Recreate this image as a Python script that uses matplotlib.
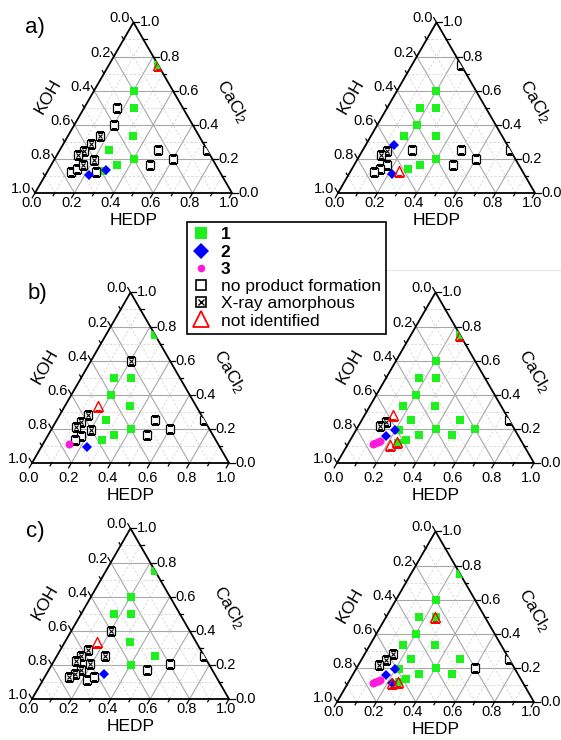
import numpy as np
import matplotlib
matplotlib.use("Agg")
import matplotlib.pyplot as plt
from matplotlib.lines import Line2D
from matplotlib.patches import Polygon

plt.rcParams.update({
    "font.family": ["Liberation Sans", "DejaVu Sans"],
    "mathtext.fontset": "custom",
    "mathtext.rm": "Liberation Sans",
    "mathtext.it": "Liberation Sans:italic",
    "mathtext.bf": "Liberation Sans:bold",
})

W, H = 561, 740
H3 = np.sqrt(3) / 2
SIDE = 197          # triangle side in pixels
PAD, TOP = 0.25, 0.15

GREEN = "#1ef01e"
BLUE = "#0000ff"
MAGENTA = "#ff1ad9"
RED = "#ff0000"

# compositions as (HEDP, CaCl2) fractions, KOH = 1 - HEDP - CaCl2
A_LEFT = {
    "1": [(0.25, 0.75), (0.2, 0.6), (0.25, 0.5), (0.333, 0.333), (0.4, 0.2),
          (0.25, 0.25), (0.333, 0.167), (0.28, 0.13)],
    "2": [(0.222, 0.105), (0.292, 0.133)],
    "3": [],
    "none": [(0.167, 0.5), (0.2, 0.4), (0.5, 0.25), (0.6, 0.2), (0.5, 0.167),
             (0.75, 0.25), (0.122, 0.121), (0.144, 0.139), (0.25, 0.121)],
    "amorph": [(0.16, 0.337), (0.14, 0.285), (0.124, 0.248), (0.106, 0.222),
               (0.2, 0.195), (0.163, 0.164)],
    "unid": [(0.25, 0.75)],
}
A_RIGHT = {
    "1": [(0.2, 0.6), (0.167, 0.5), (0.25, 0.5), (0.2, 0.4), (0.167, 0.333),
          (0.333, 0.333), (0.4, 0.2), (0.333, 0.167), (0.285, 0.139)],
    "2": [(0.146, 0.281), (0.22, 0.113)],
    "3": [],
    "none": [(0.25, 0.75), (0.25, 0.25), (0.5, 0.25), (0.6, 0.2), (0.5, 0.167),
             (0.75, 0.25), (0.165, 0.164), (0.142, 0.141), (0.124, 0.121)],
    "amorph": [(0.126, 0.248), (0.107, 0.222)],
    "unid": [(0.247, 0.129)],
}
B_LEFT = {
    "1": [(0.25, 0.75), (0.167, 0.5), (0.25, 0.5), (0.2, 0.4), (0.333, 0.333),
          (0.25, 0.25), (0.4, 0.2), (0.333, 0.167), (0.29, 0.133)],
    "2": [(0.234, 0.094)],
    "3": [(0.133, 0.113)],
    "none": [(0.172, 0.158), (0.152, 0.133), (0.5, 0.25), (0.6, 0.2),
             (0.5, 0.167), (0.75, 0.25)],
    "amorph": [(0.2, 0.6), (0.145, 0.279), (0.13, 0.24), (0.116, 0.212),
               (0.2, 0.195)],
    "unid": [(0.167, 0.333)],
}
B_RIGHT = {
    "1": [(0.25, 0.75), (0.2, 0.6), (0.167, 0.5), (0.25, 0.5), (0.2, 0.4),
          (0.167, 0.333), (0.333, 0.333), (0.25, 0.25), (0.5, 0.25),
          (0.4, 0.2), (0.6, 0.2), (0.333, 0.167), (0.5, 0.167),
          (0.286, 0.133), (0.25, 0.12), (0.215, 0.195)],
    "2": [(0.197, 0.195), (0.168, 0.157)],
    "3": [(0.128, 0.11), (0.136, 0.117), (0.144, 0.124), (0.152, 0.131)],
    "none": [(0.75, 0.25)],
    "amorph": [(0.126, 0.241), (0.108, 0.216)],
    "unid": [(0.25, 0.75), (0.141, 0.284), (0.219, 0.104), (0.243, 0.122)],
}
C_LEFT = {
    "1": [(0.25, 0.75), (0.2, 0.6), (0.167, 0.5), (0.25, 0.5), (0.333, 0.333),
          (0.5, 0.25), (0.4, 0.2)],
    "2": [(0.29, 0.146)],
    "3": [],
    "none": [(0.224, 0.109), (0.249, 0.127), (0.5, 0.168), (0.6, 0.205),
             (0.75, 0.25)],
    "amorph": [(0.2, 0.4), (0.139, 0.288), (0.246, 0.253), (0.123, 0.253),
               (0.111, 0.22), (0.194, 0.205), (0.164, 0.172), (0.142, 0.148),
               (0.122, 0.127)],
    "unid": [(0.162, 0.337)],
}
C_RIGHT = {
    "1": [(0.25, 0.75), (0.2, 0.6), (0.167, 0.5), (0.25, 0.5), (0.2, 0.4),
          (0.167, 0.333), (0.333, 0.333), (0.25, 0.25), (0.5, 0.25),
          (0.4, 0.2), (0.333, 0.167), (0.5, 0.167), (0.286, 0.133),
          (0.256, 0.115), (0.215, 0.195)],
    "2": [(0.197, 0.195), (0.168, 0.157), (0.223, 0.109)],
    "3": [(0.128, 0.11), (0.136, 0.117), (0.144, 0.124), (0.152, 0.131)],
    "none": [(0.6, 0.2), (0.75, 0.25)],
    "amorph": [(0.145, 0.279), (0.126, 0.245), (0.107, 0.216)],
    "unid": [(0.245, 0.5), (0.223, 0.109), (0.25, 0.118)],
}

# panel placement: bottom-left corner of each triangle (pixels from top-left),
# plus the extra drop of the bottom labels in that row
PANELS = [
    (A_LEFT, 35, 193, 0), (A_RIGHT, 338, 193, 0),
    (B_LEFT, 32, 463, 5), (B_RIGHT, 337, 463, 5),
    (C_LEFT, 32, 699, 0), (C_RIGHT, 337, 702, 0),
]
PANEL_LETTERS = [("a)", 35, 27), ("b)", 37, 294), ("c)", 35, 531)]

ORDER = ["1", "none", "amorph", "3", "2", "unid"]
STYLE = {
    "1": dict(marker="s", ms=6, mfc=GREEN, mec=GREEN, mew=0),
    "2": dict(marker="D", ms=4.6, mfc=BLUE, mec=BLUE, mew=0),
    "3": dict(marker="o", ms=5.8, mfc=MAGENTA, mec=MAGENTA, mew=0),
    "none": dict(marker="s", ms=5.4, mfc="white", mec="black", mew=0.9),
    "amorph": dict(marker="s", ms=5.4, mfc="white", mec="black", mew=0.9),
    "unid": dict(marker="^", ms=6.5, mfc="none", mec=RED, mew=1.0),
}


def cart(h, c):
    h = np.asarray(h, float)
    c = np.asarray(c, float)
    return h + c / 2, c * H3


def draw_frame(ax, drop):
    for i in range(1, 10):
        t = i / 10
        if i % 2 == 0:
            kw = dict(color="#a8a8a8", lw=0.8, ls="-")
        else:
            kw = dict(color="#d6d6d6", lw=0.6, ls=(0, (3, 2)))
        for h, c in [([0, 1 - t], [t, t]),           # const CaCl2
                     ([t, t], [0, 1 - t]),           # const HEDP
                     ([1 - t, 0], [0, 1 - t])]:      # const KOH
            ax.plot(*cart(h, c), zorder=1, **kw)
    ax.plot([0, 1, 0.5, 0], [0, 0, H3, 0], color="black", lw=1.3, zorder=2,
            solid_joinstyle="miter")

    d = drop / SIDE
    for i in range(11):
        t = i / 10
        ln = 0.028 if i % 2 == 0 else 0.016
        # HEDP (bottom)
        x, y = cart(t, 0)
        ax.plot([x, x - 0.5 * ln], [y, y - H3 * ln], color="black", lw=0.9)
        # CaCl2 (right)
        x, y = cart(1 - t, t)
        ax.plot([x, x + ln], [y, y], color="black", lw=0.9)
        # KOH (left)
        x, y = cart(0, 1 - t)
        ax.plot([x, x - 0.5 * ln], [y, y + H3 * ln], color="black", lw=0.9)
        if i % 2:
            continue
        lab = f"{t:.1f}"
        x, y = cart(t, 0)
        ax.text(x - 0.015, y - 0.052 - d, lab, ha="center", va="center", fontsize=10.5)
        x, y = cart(1 - t, t)
        ax.text(x + 0.03, y, lab, ha="left", va="center", fontsize=10.5)
        x, y = cart(0, 1 - t)
        ax.text(x - 0.018, y + 0.02, lab, ha="right", va="center", fontsize=10.5)

    ax.text(0.068, 0.49, "KOH", rotation=60, ha="center", va="center", fontsize=12.5)
    ax.text(1.0, 0.465, r"CaCl$_\mathregular{2}$", rotation=-60, ha="center",
            va="center", fontsize=12.5)
    ax.text(0.5, -0.14 - d, "HEDP", ha="center", va="center", fontsize=12.5)


fig = plt.figure(figsize=(W / 100, H / 100), dpi=100)

for data, px, py, drop in PANELS:
    ax = fig.add_axes([(px - PAD * SIDE) / W, (H - py - PAD * SIDE) / H,
                       (1 + 2 * PAD) * SIDE / W, (PAD + H3 + TOP) * SIDE / H])
    ax.set_xlim(-PAD, 1 + PAD)
    ax.set_ylim(-PAD, H3 + TOP)
    ax.set_axis_off()
    draw_frame(ax, drop)
    tri = Polygon([[0, 0], [1, 0], [0.5, H3]], closed=True, transform=ax.transData)
    for key in ORDER:
        pts = data[key]
        if not pts:
            continue
        h, c = zip(*pts)
        x, y = cart(h, c)
        arts = ax.plot(x, y, ls="none", zorder=3, **STYLE[key])
        if key == "amorph":
            arts += ax.plot(x, y, ls="none", marker="x", ms=3.4, mew=0.8,
                            color="black", zorder=3)
        for a in arts:
            a.set_clip_path(tri)

for letter, lx, ly in PANEL_LETTERS:
    fig.text(lx / W, 1 - ly / H, letter, ha="center", va="center", fontsize=16)

# legend
handles = [
    Line2D([], [], ls="none", marker="s", ms=8, mfc=GREEN, mec=GREEN, mew=0),
    Line2D([], [], ls="none", marker="D", ms=8, mfc=BLUE, mec=BLUE, mew=0),
    Line2D([], [], ls="none", marker="o", ms=5.5, mfc=MAGENTA, mec=MAGENTA, mew=0),
    Line2D([], [], ls="none", marker="s", ms=6.5, mfc="white", mec="black", mew=1.2),
    (Line2D([], [], ls="none", marker="s", ms=6.5, mfc="white", mec="black", mew=1.2),
     Line2D([], [], ls="none", marker="x", ms=4.5, mec="black", mew=1.0)),
    Line2D([], [], ls="none", marker="^", ms=11, mfc="none", mec=RED, mew=1.3),
]
labels = ["1", "2", "3", "no product formation", "X-ray amorphous", "not identified"]
leg = fig.legend(handles, labels, loc="upper left",
                 bbox_to_anchor=(187 / W, 1 - 222 / H), frameon=True,
                 fancybox=False, edgecolor="black", framealpha=1,
                 fontsize=12.5, handlelength=1.0, handletextpad=0.65,
                 labelspacing=0.12, borderpad=0.3, borderaxespad=0)
leg.get_frame().set_linewidth(1.2)
for t in leg.get_texts()[:3]:
    t.set_fontweight("bold")

fig.add_artist(Line2D([368 / W, 1], [1 - 270 / H] * 2, color="#e6e6e6", lw=0.8,
                      transform=fig.transFigure))

fig.savefig("out.png", dpi=100)
